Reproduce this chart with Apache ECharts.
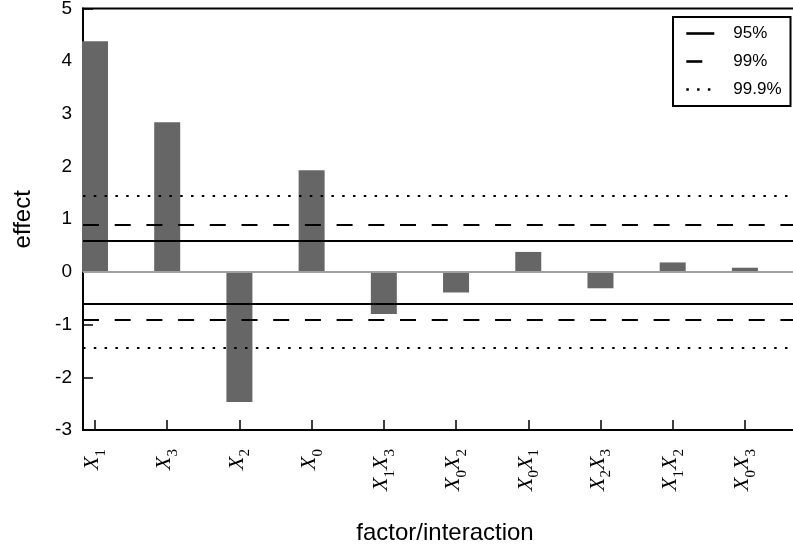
<!DOCTYPE html>
<html>
<head>
<meta charset="utf-8">
<script src="https://cdn.jsdelivr.net/npm/echarts@6/dist/echarts.min.js"></script>
<style>
  html, body { margin: 0; padding: 0; background: #fff; }
  #chart { width: 793px; height: 549px; }
</style>
</head>
<body>
<div id="chart"></div>
<script>
// factors / interactions, written as X_i pairs
const categories = ['X_1', 'X_3', 'X_2', 'X_0', 'X_1X_3', 'X_0X_2', 'X_0X_1', 'X_2X_3', 'X_1X_2', 'X_0X_3'];
const effects = [4.38, 2.84, -2.47, 1.93, -0.80, -0.39, 0.38, -0.31, 0.18, 0.08];

// significance limits (+/-)
const limitNames = ['95%', '99%', '99.9%'];
const limitValues = [0.6, 0.9, 1.44];

const yTicks = [-3, -2, -1, 0, 1, 2, 3, 4, 5];

const chart = echarts.init(document.getElementById('chart'));

// bars sit at x = 1..n on a value axis
const positions = categories.map((c, i) => i + 1);
const barData = effects.map((v, i) => [positions[i], v]);

// "X_1X_3" -> rich text with subscripts
function richLabel(s) {
  return s.split('X_').filter(p => p).map(p => '{x|X}{s|' + p + '}').join('');
}

const dashTypes = ['solid', [16, 15.7], [2.5, 8.3]];

const limitSeries = limitNames.map((name, k) => ({
  name: name,
  type: 'line',
  data: [],
  symbol: 'none',
  symbolSize: 0,
  lineStyle: { color: '#000', width: 2, type: dashTypes[k] },
  itemStyle: { color: '#000' },
  markLine: {
    silent: true,
    symbol: 'none',
    label: { show: false },
    lineStyle: { color: '#000', width: 2, type: dashTypes[k] },
    data: [{ yAxis: limitValues[k] }, { yAxis: -limitValues[k] }]
  }
}));

const option = {
  animation: false,
  backgroundColor: '#fff',
  textStyle: { fontFamily: 'Liberation Sans' },
  grid: {
    left: 83,
    right: -14,
    top: 8.5,
    bottom: 119,
    outerBoundsMode: 'none',
    show: true,
    borderColor: '#000',
    borderWidth: 2,
    backgroundColor: 'transparent'
  },
  legend: {
    orient: 'vertical',
    left: 673,
    top: 17,
    padding: [8, 9, 8, 12],
    itemGap: 11,
    itemWidth: 28,
    itemHeight: 14,
    backgroundColor: '#fff',
    borderColor: '#000',
    borderWidth: 2,
    borderRadius: 0,
    data: limitNames,
    itemStyle: { opacity: 0 },
    lineStyle: { width: 2.6 },
    formatter: '{a|{name}}',
    textStyle: {
      fontSize: 17,
      color: '#000',
      rich: { a: { fontSize: 17, padding: [0, 0, 0, 14], fontFamily: 'Liberation Sans' } }
    }
  },
  xAxis: {
    type: 'value',
    min: 0.834,
    max: 10.86,
    name: 'factor/interaction',
    nameLocation: 'middle',
    nameGap: 91,
    nameTextStyle: { fontSize: 24, color: '#000', fontFamily: 'Liberation Sans' },
    axisLine: { onZero: false, lineStyle: { color: '#000', width: 2 } },
    axisTick: {
      inside: true,
      length: 10,
      customValues: positions,
      lineStyle: { color: '#000', width: 1.5 }
    },
    axisLabel: {
      rotate: 90,
      margin: 19,
      customValues: positions,
      formatter: v => richLabel(categories[Math.round(v) - 1] || ''),
      rich: {
        x: { fontFamily: 'Liberation Serif', fontStyle: 'italic', fontSize: 22, color: '#000', verticalAlign: 'top', padding: [0, 0, 5, 0] },
        s: { fontFamily: 'Liberation Serif', fontSize: 15, color: '#000', verticalAlign: 'bottom' }
      }
    },
    splitLine: { show: false }
  },
  yAxis: {
    type: 'value',
    min: yTicks[0],
    max: yTicks[yTicks.length - 1],
    interval: 1,
    name: 'effect',
    nameLocation: 'middle',
    nameGap: 48,
    nameTextStyle: { fontSize: 24, color: '#000', fontFamily: 'Liberation Sans' },
    axisLine: { lineStyle: { color: '#000', width: 2 } },
    axisTick: { inside: true, length: 10, lineStyle: { color: '#000', width: 1.5 } },
    axisLabel: { fontSize: 19, color: '#000', margin: 11 },
    splitLine: { show: false }
  },
  series: [
    {
      type: 'bar',
      data: barData,
      barWidth: 26,
      itemStyle: { color: '#666666' },
      markLine: {
        silent: true,
        symbol: 'none',
        label: { show: false },
        lineStyle: { color: '#a0a0a0', width: 2, type: 'solid' },
        data: [{ yAxis: 0 }]
      }
    },
    ...limitSeries
  ]
};

chart.setOption(option);
</script>
</body>
</html>
